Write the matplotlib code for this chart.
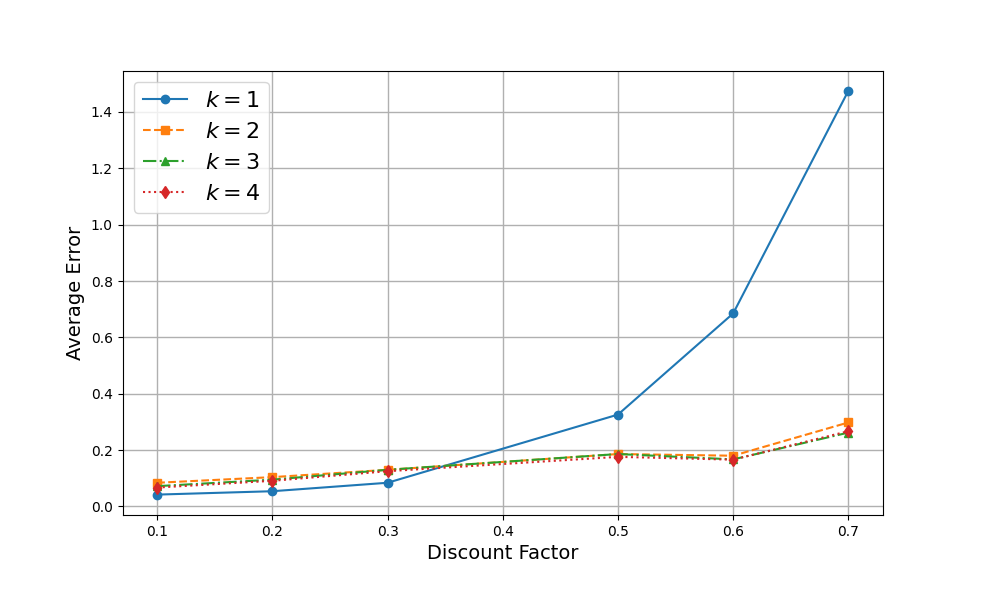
import numpy as np
import matplotlib
matplotlib.use("Agg")
import matplotlib.pyplot as plt

# Dati
discount = [0.1, 0.2, 0.3, 0.5, 0.6, 0.7]
err_k1 = [0.042, 0.054, 0.084, 0.326, 0.685, 1.475]
err_k2 = [0.084, 0.104, 0.130, 0.186, 0.180, 0.298]
err_k3 = [0.072, 0.095, 0.130, 0.186, 0.167, 0.262]
err_k4 = [0.067, 0.091, 0.125, 0.176, 0.166, 0.267]

fig = plt.figure(figsize=(9.81, 5.89), dpi=100)
ax = fig.add_subplot(111)
fig.subplots_adjust(left=0.125, right=0.9, top=0.88, bottom=0.126)

ax.plot(discount, err_k1, '-o', color='tab:blue', label=r'$k=1$')
ax.plot(discount, err_k2, '--s', color='tab:orange', label=r'$k=2$')
ax.plot(discount, err_k3, '-.^', color='tab:green', label=r'$k=3$')
ax.plot(discount, err_k4, ':d', color='tab:red', label=r'$k=4$')

ax.set_xlabel("Discount Factor", fontsize=14)
ax.set_ylabel("Average Error", fontsize=14)
ax.set_xticks([0.1, 0.2, 0.3, 0.4, 0.5, 0.6, 0.7])
ax.grid(True, linewidth=1)
ax.legend(fontsize=16, loc='upper left')

fig.savefig("out.png", dpi=100)
